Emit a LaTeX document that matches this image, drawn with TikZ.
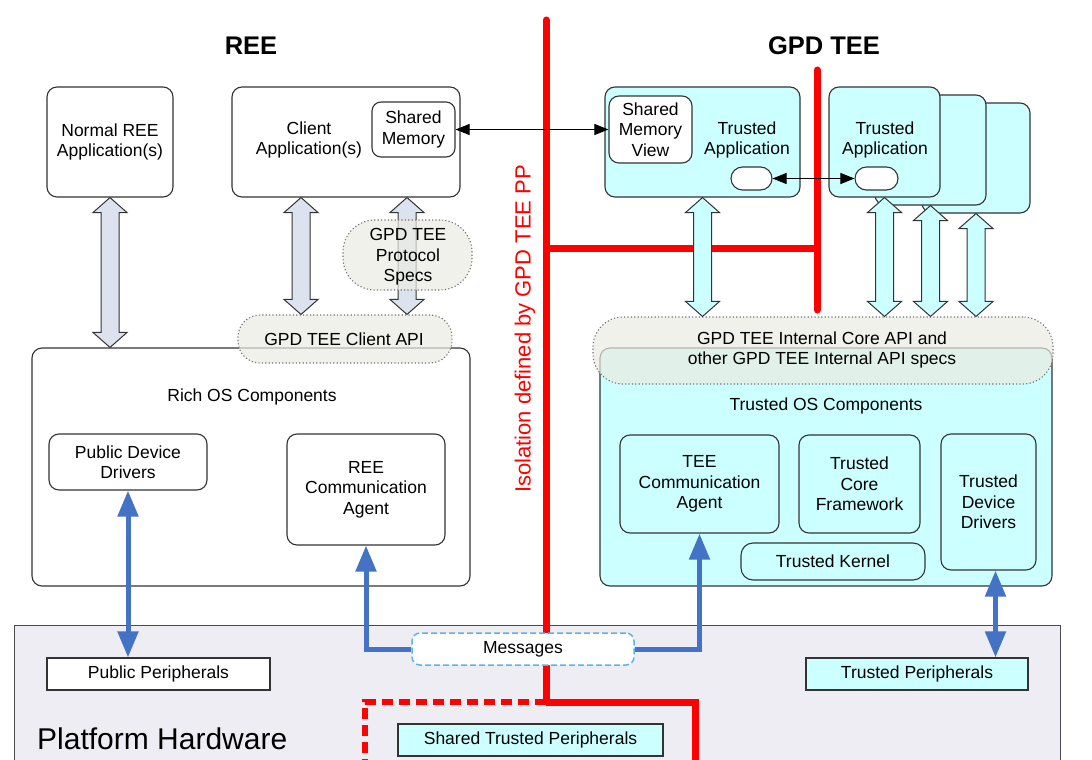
\documentclass[tikz,border=0pt]{standalone}
\usepackage{fontspec}
\setmainfont{Liberation Sans}
\usetikzlibrary{arrows.meta,calc}
\definecolor{cy}{HTML}{CCFFFF}
\definecolor{gy}{HTML}{DDE3EE}
\definecolor{bl}{HTML}{4472C4}
\definecolor{ph}{HTML}{EEEDF3}
\definecolor{apif}{HTML}{EBECE2}
\definecolor{edge}{HTML}{333333}
\definecolor{msgb}{HTML}{5BB4E5}
\definecolor{rd}{HTML}{FF0000}
\newcommand\blkarrow[3]{%
  \draw[blk,fill=#3] (#1) -- ++(17,15) -- ++(-8,0) -- ($(#2)+(9,-15)$) -- ++(8,0) -- (#2)
   -- ++(-17,-15) -- ++(8,0) -- ($(#1)+(-9,15)$) -- ++(-8,0) -- cycle;}
\begin{document}
\begin{tikzpicture}[x=1pt,y=-1pt,
  box/.style={draw=edge, line width=1.1pt, rounded corners=10pt, fill=white, inner sep=0pt},
  cbox/.style={box, fill=cy},
  sqbox/.style={draw=edge, line width=1.1pt, inner sep=0pt},
  lbl/.style={font=\fontsize{17.5}{20.5}\selectfont, align=center, inner sep=0pt},
  ttl/.style={font=\fontsize{25.5}{30}\selectfont\bfseries, inner sep=0pt},
  api/.style={draw=black!55, dash pattern=on 1.2pt off 2.2pt, line width=1.1pt, fill=apif, fill opacity=0.7, inner sep=0pt},
  blk/.style={draw=edge, line width=1pt, line join=miter},
  bluesgl/.style={draw=bl, line width=5pt, line join=miter, -{Triangle[length=26pt,width=20pt]}},
  bluedbl/.style={draw=bl, line width=5pt, {Triangle[length=26pt,width=20pt]}-{Triangle[length=26pt,width=20pt]}},
  blkarr/.style={draw=black, line width=1pt, {Triangle[length=14pt,width=11pt]}-{Triangle[length=14pt,width=11pt]}},
  redline/.style={draw=rd, line width=7pt},
]
\useasboundingbox (0,0) rectangle (1092,760);
\fill[white] (0,0) rectangle (1092,760);
\clip (0,0) rectangle (1092,760);

% platform hardware
\node[sqbox, fill=ph, draw=black!70, minimum width=1046, minimum height=160, anchor=north west] (plat) at (14,625) {};
\node[font=\fontsize{30}{36}\selectfont, anchor=west, inner sep=0pt] (plattxt) at (37,739) {Platform Hardware};
\node[sqbox, fill=white, minimum width=223, minimum height=32] (pp) at (158.5,674) {};
\node[lbl] at (pp.center) {Public Peripherals};
\node[sqbox, fill=cy, minimum width=222, minimum height=32] (tp) at (917,674) {};
\node[lbl] at (tp.center) {Trusted Peripherals};
\node[sqbox, fill=cy, minimum width=265, minimum height=32] (stp) at (530.5,740) {};
\node[lbl] at (stp.center) {Shared Trusted Peripherals};

% red isolation lines
\coordinate (r0) at (546,20);
\coordinate (r1) at (546,702);
\coordinate (r2) at (695,702);
\coordinate (r3) at (695,790);
\coordinate (r4) at (365,702);
\coordinate (r5) at (365,790);
\coordinate (r6) at (546,248);
\coordinate (r7) at (817,248);
\coordinate (r8) at (817,70);
\coordinate (r9) at (817,310);
\draw[redline, line cap=round] (r0) -- (r1);
\draw[redline, line join=miter] (r1) -- (r2) -- (r3);
\draw[draw=rd, line width=6pt, dash pattern=on 11pt off 6pt] (r1) -- (r4) -- (r5);
\draw[redline] (r6) -- (r7);
\draw[redline, line cap=round] (r8) -- (r9);
\node[rotate=90, text=rd, font=\fontsize{22}{26}\selectfont, inner sep=0pt] (iso) at (525,329) {Isolation defined by GPD TEE PP};

% titles
\node[ttl] (tree) at (251,46) {REE};
\node[ttl] (ttee) at (824,46) {GPD TEE};

% REE side
\node[box, minimum width=126, minimum height=110] (nrm) at (110,142) {};
\node[lbl] at (nrm.center) {Normal REE\\Application(s)};
\node[box, minimum width=228, minimum height=110] (cli) at (346,142) {};
\node[lbl] at (309,140) {Client\\Application(s)};
\node[box, rounded corners=9pt, minimum width=83, minimum height=55] (shm) at (413.5,129.5) {};
\node[lbl] at (shm.center) {Shared\\Memory};

\node[box, minimum width=438, minimum height=238] (ros) at (251,467) {};
\node[lbl] at (252,397) {Rich OS Components};
\node[box, minimum width=158, minimum height=56] (pdd) at (128,462) {};
\node[lbl] at (pdd.center) {Public Device\\Drivers};
\node[box, minimum width=158, minimum height=111] (rca) at (366,489.5) {};
\node[lbl] at (rca.center) {REE\\Communication\\Agent};

\node[api, rounded corners=22pt, minimum width=214, minimum height=48] (capi) at (345,339) {};
\node[lbl] at (344,339) {GPD TEE Client API};

\coordinate (xc) at (301,0);
\coordinate (xp) at (407,0);
\blkarrow{nrm.south}{nrm.south |- ros.north}{gy}
\blkarrow{xc |- cli.south}{xc |- capi.north}{gy}
\blkarrow{xp |- cli.south}{xp |- capi.north}{gy}

\node[api, rounded corners=32pt, minimum width=129, minimum height=70] (pspec) at (407.5,255) {};
\node[lbl] at (408,257) {GPD TEE\\Protocol\\Specs};

% TEE side
\node[cbox, minimum width=452, minimum height=238] (tos) at (826,467) {};
\node[api, rounded corners=30pt, minimum width=460, minimum height=67] (iapi) at (823,350.5) {};
\node[lbl] at (822,350) {GPD TEE Internal Core API and\\other GPD TEE Internal API specs};
\node[lbl] at (826,406) {Trusted OS Components};
\node[cbox, minimum width=159, minimum height=98] (tca) at (699.5,484) {};
\node[lbl] at (tca.center) {TEE\\Communication\\Agent};
\node[cbox, minimum width=121, minimum height=98] (tcf) at (859.5,484) {};
\node[lbl] at (tcf.center) {Trusted\\Core\\Framework};
\node[cbox, minimum width=95, minimum height=136] (tdd) at (988.5,502) {};
\node[lbl] at (tdd.center) {Trusted\\Device\\Drivers};
\node[cbox, rounded corners=12pt, minimum width=184, minimum height=37] (tk) at (833,561.5) {};
\node[lbl] at (tk.center) {Trusted Kernel};

\node[cbox, minimum width=195, minimum height=110] (ta1) at (702.5,142) {};
\node[lbl] at (747,140) {Trusted\\Application};
\node[box, minimum width=83, minimum height=67] (smv) at (650.5,129.5) {};
\node[lbl] at (smv.center) {Shared\\Memory\\View};
\node[box, rounded corners=11.5pt, minimum width=41, minimum height=23] (pill1) at (751.5,178.5) {};

\node[cbox, minimum width=108, minimum height=110] (ta3) at (976,158) {};
\node[cbox, minimum width=111, minimum height=110] (ta2) at (930.5,150) {};
\node[cbox, minimum width=111, minimum height=110] (ta) at (884.5,142) {};
\node[lbl] at (885,140) {Trusted\\Application};
\node[box, rounded corners=11.5pt, minimum width=43, minimum height=23] (pill2) at (876.5,178.5) {};

\blkarrow{ta1.south}{ta1.south |- iapi.north}{cy}
\blkarrow{ta.south}{ta.south |- iapi.north}{cy}
\blkarrow{ta2.south}{ta2.south |- iapi.north}{cy}
\blkarrow{ta3.south}{ta3.south |- iapi.north}{cy}

% messages and blue arrows
\draw[bluedbl] (pdd.south) -- (pdd.south |- pp.north);
\coordinate (tddb) at ($(tdd.south)+(7,0)$);
\draw[bluedbl] (tddb) -- (tddb |- tp.north);
\node[draw=msgb, fill=white, line width=1.5pt, dash pattern=on 6pt off 3pt, rounded corners=8pt, minimum width=222, minimum height=32, inner sep=0pt] (msg) at (523,649) {};
\node[lbl] at (msg.center) {Messages};
\draw[bluesgl] (msg.west) -| (rca.south);
\draw[bluesgl] (msg.east) -| (tca.south);

% black arrows
\draw[blkarr] (shm.east) -- (smv.west);
\draw[blkarr] (pill1.east) -- (pill2.west);
\end{tikzpicture}
\end{document}
